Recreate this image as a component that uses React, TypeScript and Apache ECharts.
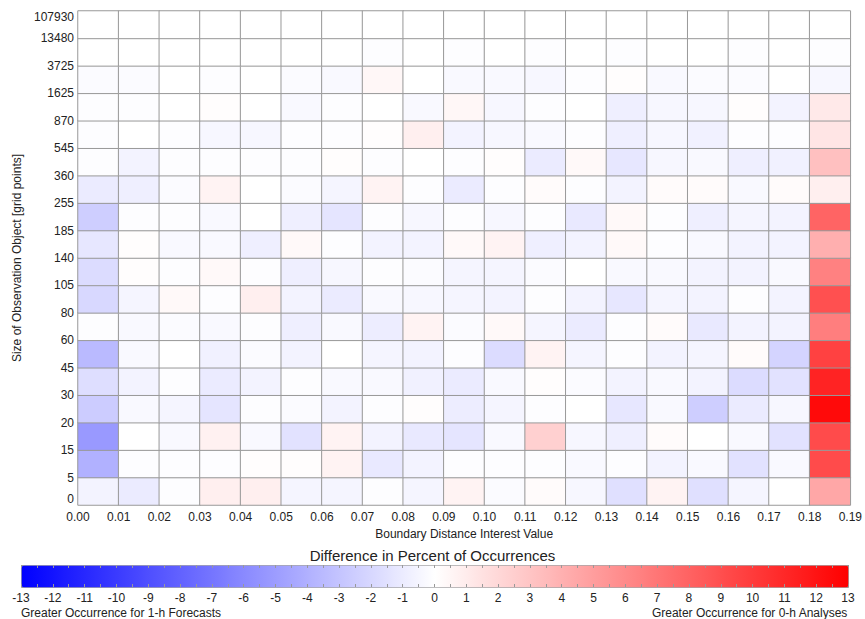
import React, { useEffect, useRef } from "react";
import * as echarts from "echarts";

// Bin edges along each axis (labels sit on the cell boundaries)
const distanceEdges = [
  "0.00", "0.01", "0.02", "0.03", "0.04", "0.05", "0.06", "0.07", "0.08", "0.09",
  "0.10", "0.11", "0.12", "0.13", "0.14", "0.15", "0.16", "0.17", "0.18", "0.19",
];
const sizeEdges = [
  "0", "5", "15", "20", "30", "45", "60", "80", "105", "140", "185", "255",
  "360", "545", "870", "1625", "3725", "13480", "107930",
];

// Difference in percent of occurrences, one array per object-size bin,
// each running across the 19 boundary-distance bins (0.00 -> 0.19)
const size0to5 = [-0.6, -1.0, -0.1, 0.8, 0.8, -0.5, -0.5, -0.1, -0.5, 0.6, -0.2, 0.2, -0.4, -1.6, 0.6, -1.6, -0.5, 0, 4.5];
const size5to15 = [-4.0, -0.1, -0.1, -0.1, 0.1, 0.1, 0.6, -1.1, -0.6, -0.1, -0.1, -0.1, -0.3, -0.1, -0.6, -0.3, -1.5, -0.3, 9.2];
const size15to20 = [-5.2, 0, -0.3, 0.7, -0.3, -1.5, 0.6, -0.6, -1.1, -1.3, -0.3, 2.4, -0.4, -0.8, 0.2, 0, -0.3, -1.5, 9.2];
const size20to30 = [-2.6, -0.3, -0.5, -1.3, -0.1, -0.2, -0.6, -0.1, 0.1, -0.9, -0.5, -0.1, 0, -1.2, -0.3, -2.5, -1.0, -0.4, 12.5];
const size30to45 = [-1.7, -0.6, -0.1, -1.0, -0.6, -0.1, -0.3, -0.3, -0.7, -1.0, -0.3, 0.1, -0.2, -0.6, -0.3, -0.6, -1.8, -1.5, 11.2];
const size45to60 = [-3.5, -0.3, 0, -0.7, -0.2, -0.6, 0, -0.5, -0.6, -0.1, -1.8, 0.6, -0.5, -0.1, -0.6, -0.5, 0.2, -2.2, 9.7];
const size60to80 = [-0.1, -0.3, -0.2, -0.3, -0.1, -0.8, -0.3, -0.9, 0.6, -0.2, 0.3, -0.5, -1.0, -0.1, 0.2, -1.1, -0.6, -0.6, 6.6];
const size80to105 = [-2.0, -0.5, 0.3, -0.1, 0.8, -0.6, -1.0, -0.3, -0.4, -0.5, -0.6, -0.1, -0.6, -1.2, -0.5, -0.6, -0.1, -0.6, 8.9];
const size105to140 = [-1.8, 0.1, -0.1, 0.3, -0.1, -0.8, -0.4, -0.1, -0.2, -0.5, -0.5, -0.2, 0, -0.3, -0.3, -0.6, -0.6, -0.3, 6.4];
const size140to185 = [-1.2, 0.1, -0.3, -0.3, -0.8, 0.3, -0.1, -0.6, -0.6, 0.3, 0.6, -0.8, -0.6, 0.3, -0.1, -0.3, -0.6, -0.6, 4.1];
const size185to255 = [-2.5, -0.1, -0.1, -0.3, 0, -0.8, -1.3, -0.1, -0.4, -0.1, -0.4, -0.1, -1.1, 0.3, -0.1, -0.8, -0.5, -0.6, 7.9];
const size255to360 = [-1.0, -0.8, -0.2, 0.6, 0, -0.2, -0.5, 0.6, -0.1, -1.0, -0.1, 0.2, -0.1, -0.6, 0.2, 0.2, -0.3, 0.2, 0.8];
const size360to545 = [-0.1, -0.6, -0.1, -0.1, -0.1, -0.1, 0.1, -0.1, 0, -0.1, 0.1, -1.0, 0.3, -1.2, -0.4, -0.3, -0.8, -0.7, 3.2];
const size545to870 = [-0.1, 0, -0.1, -0.4, -0.4, -0.1, -0.1, 0.1, 0.8, -0.6, -0.4, -0.3, -0.1, -0.8, -0.4, -0.7, -0.1, -0.1, 1.3];
const size870to1625 = [-0.1, -0.1, 0, 0.1, 0, -0.3, -0.1, 0, -0.3, 0.4, -0.4, -0.1, 0, -0.8, -0.4, -0.4, 0.1, -0.6, 1.1];
const size1625to3725 = [-0.2, -0.2, 0, -0.1, 0, -0.2, -0.3, 0.4, 0, -0.3, -0.3, -0.4, -0.1, 0.1, -0.3, -0.2, -0.2, 0, -0.4];
const size3725to13480 = [0, 0, 0, 0, 0, 0, 0, -0.1, 0, -0.1, 0, -0.1, 0, -0.1, 0, 0, -0.1, 0, -0.1];
const size13480to107930 = [0, 0, 0, 0, 0, 0, 0, 0, 0, 0, 0, 0, 0, 0, 0, 0, 0, 0, 0];

// Bottom (smallest objects) to top
const sizeRows = [
  size0to5, size5to15, size15to20, size20to30, size30to45, size45to60,
  size60to80, size80to105, size105to140, size140to185, size185to255,
  size255to360, size360to545, size545to870, size870to1625, size1625to3725,
  size3725to13480, size13480to107930,
];

const colorbarMin = -13;
const colorbarMax = 13;

const FONT = "'Liberation Sans', Arial, Helvetica, sans-serif";
const TEXT = "#222";
const LINE = "#999";

export default function App() {
  const ref = useRef<HTMLDivElement>(null);

  useEffect(() => {
    if (!ref.current) return;
    const chart = echarts.init(ref.current, null, { renderer: "svg" });

    const distanceBins = distanceEdges.slice(0, -1).map((e, i) => `${e}-${distanceEdges[i + 1]}`);
    const sizeBins = sizeEdges.slice(0, -1).map((e, i) => `${e}-${sizeEdges[i + 1]}`);

    const cells: [number, number, number][] = [];
    sizeRows.forEach((row, yi) => {
      row.forEach((v, xi) => cells.push([xi, yi, v]));
    });

    const gridL = 78;
    const gridT = 11;
    const gridW = 775;
    const gridH = 494;

    const barL = 21;
    const barT = 565;
    const barW = 827;
    const barH = 22;

    const tickLabelStyle = { fontFamily: FONT, fontSize: 12, color: TEXT };
    const barTick = { show: true, inside: true, length: 3, lineStyle: { color: LINE, width: 1 } };
    const barMinorTick = { show: true, splitNumber: 2, length: 3, lineStyle: { color: LINE, width: 1 } };

    chart.setOption({
      animation: false,
      backgroundColor: "#ffffff",
      textStyle: { fontFamily: FONT },
      title: {
        text: "Difference in Percent of Occurrences",
        left: "center",
        top: 543,
        textStyle: { fontFamily: FONT, fontSize: 15, fontWeight: "normal", color: TEXT },
      },
      grid: [
        { left: gridL, top: gridT, width: gridW, height: gridH, containLabel: false },
        { left: barL, top: barT, width: barW, height: barH, containLabel: false },
      ],
      xAxis: [
        {
          type: "category",
          gridIndex: 0,
          data: distanceBins,
          axisLine: { show: false },
          axisTick: { show: false },
          axisLabel: { show: false },
          splitLine: { show: false },
        },
        {
          type: "value",
          gridIndex: 0,
          position: "bottom",
          min: 0,
          max: distanceEdges.length - 1,
          interval: 1,
          axisLine: { show: false },
          axisTick: { show: false },
          splitLine: { show: false },
          axisLabel: {
            ...tickLabelStyle,
            margin: 6,
            formatter: (v: number) => distanceEdges[Math.round(v)] ?? "",
          },
          name: "Boundary Distance Interest Value",
          nameLocation: "middle",
          nameGap: 16,
          nameTextStyle: { fontFamily: FONT, fontSize: 12, color: TEXT },
        },
        {
          type: "value",
          gridIndex: 1,
          position: "bottom",
          min: colorbarMin,
          max: colorbarMax,
          interval: 1,
          axisLine: { show: false },
          axisTick: barTick,
          minorTick: barMinorTick,
          splitLine: { show: false },
          axisLabel: { ...tickLabelStyle, margin: 5 },
          z: 10,
        },
        {
          type: "value",
          gridIndex: 1,
          position: "top",
          min: colorbarMin,
          max: colorbarMax,
          interval: 1,
          axisLine: { show: false },
          axisTick: barTick,
          minorTick: barMinorTick,
          splitLine: { show: false },
          axisLabel: { show: false },
          z: 10,
        },
      ],
      yAxis: [
        {
          type: "category",
          gridIndex: 0,
          data: sizeBins,
          axisLine: { show: false },
          axisTick: { show: false },
          axisLabel: { show: false },
          splitLine: { show: false },
        },
        {
          type: "value",
          gridIndex: 0,
          position: "left",
          min: 0,
          max: sizeEdges.length - 1,
          interval: 1,
          axisLine: { show: false },
          axisTick: { show: false },
          splitLine: { show: false },
          axisLabel: {
            ...tickLabelStyle,
            margin: 4,
            verticalAlignMinLabel: "bottom",
            verticalAlignMaxLabel: "top",
            formatter: (v: number) => sizeEdges[Math.round(v)] ?? "",
          },
          name: "Size of Observation Object [grid points]",
          nameLocation: "middle",
          nameGap: 54,
          nameRotate: 90,
          nameTextStyle: { fontFamily: FONT, fontSize: 12, color: TEXT },
        },
        {
          type: "value",
          gridIndex: 1,
          min: 0,
          max: 1,
          show: false,
        },
      ],
      visualMap: {
        type: "continuous",
        seriesIndex: 0,
        min: colorbarMin,
        max: colorbarMax,
        orient: "horizontal",
        left: barL,
        top: barT,
        itemWidth: barH,
        itemHeight: barW,
        padding: 0,
        calculable: false,
        hoverLink: false,
        realtime: false,
        text: null,
        showLabel: false,
        borderColor: LINE,
        borderWidth: 1,
        inRange: { color: ["#0000ff", "#ffffff", "#ff0000"] },
      },
      graphic: [
        {
          type: "text",
          left: barL,
          top: 607,
          style: {
            text: "Greater Occurrence for 1-h Forecasts",
            fontFamily: FONT,
            fontSize: 12,
            fill: TEXT,
          },
        },
        {
          type: "text",
          right: 865 - (barL + barW),
          top: 607,
          style: {
            text: "Greater Occurrence for 0-h Analyses",
            fontFamily: FONT,
            fontSize: 12,
            fill: TEXT,
          },
        },
      ],
      series: [
        {
          type: "heatmap",
          xAxisIndex: 0,
          yAxisIndex: 0,
          data: cells,
          itemStyle: { borderColor: LINE, borderWidth: 1 },
          emphasis: { disabled: true },
          label: { show: false },
        },
      ],
    });

    return () => chart.dispose();
  }, []);

  return (
    <div
      ref={ref}
      style={{ position: "fixed", left: 0, top: 0, width: 865, height: 619, background: "#fff" }}
    />
  );
}
